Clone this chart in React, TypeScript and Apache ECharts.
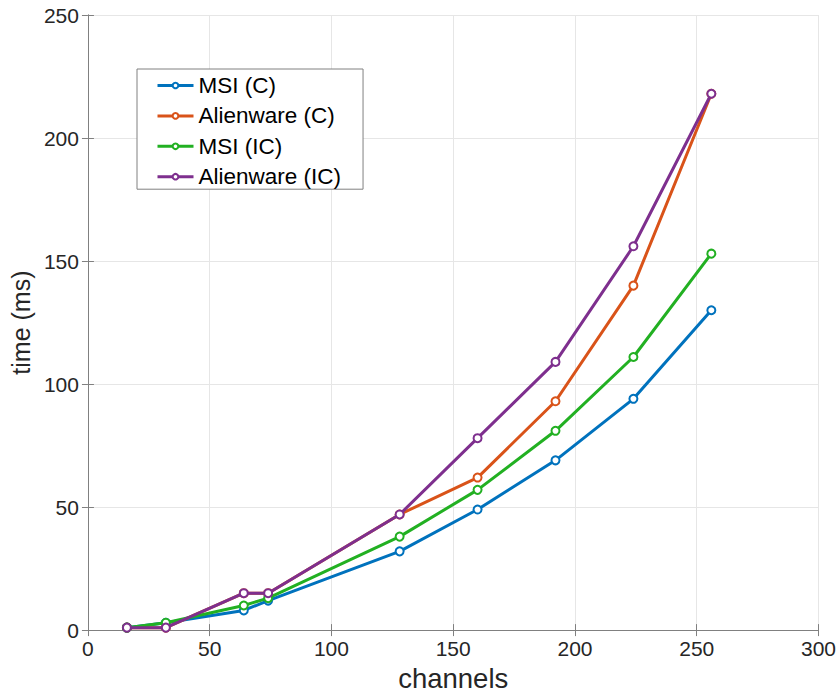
import React, { useEffect, useRef } from "react";
import * as echarts from "echarts";

const channels = [16, 32, 64, 74, 128, 160, 192, 224, 256];
const msiC = [1, 3, 8, 12, 32, 49, 69, 94, 130];
const alienwareC = [1, 1, 15, 15, 47, 62, 93, 140, 218];
const msiIC = [1, 3, 10, 13, 38, 57, 81, 111, 153];
const alienwareIC = [1, 1, 15, 15, 47, 78, 109, 156, 218];
const seriesNames = ["MSI (C)", "Alienware (C)", "MSI (IC)", "Alienware (IC)"];
const seriesColors = ["#0072BD", "#D95319", "#22B022", "#7E2F8E"];
const xTicks = [0, 50, 100, 150, 200, 250, 300];
const yTicks = [0, 50, 100, 150, 200, 250];

const FONT = "'Liberation Sans', Arial, Helvetica, sans-serif";
const AXIS_COLOR = "#808080";
const TEXT_COLOR = "#262626";

export default function App() {
  const ref = useRef<HTMLDivElement>(null);
  useEffect(() => {
    if (!ref.current) return;
    const chart = echarts.init(ref.current, null, { renderer: "svg" });
    const allValues = [msiC, alienwareC, msiIC, alienwareIC];
    const xMin = xTicks[0];
    const xMax = xTicks[xTicks.length - 1];
    const yMin = yTicks[0];
    const yMax = yTicks[yTicks.length - 1];
    const common = {
      axisLine: { show: true, lineStyle: { color: AXIS_COLOR, width: 1 } },
      axisTick: { show: true, inside: true, length: 6, lineStyle: { color: AXIS_COLOR } },
    };
    chart.setOption({
      animation: false,
      backgroundColor: "#ffffff",
      textStyle: { fontFamily: FONT },
      grid: { left: 82, right: 17, top: 15, bottom: 64, containLabel: false },
      legend: {
        left: 137,
        top: 69,
        orient: "vertical",
        selectedMode: false,
        backgroundColor: "#ffffff",
        borderColor: AXIS_COLOR,
        borderWidth: 1,
        borderRadius: 0,
        padding: [5, 22, 1, 19],
        itemWidth: 36,
        itemHeight: 7,
        itemGap: 7.4,
        lineStyle: { width: 3 },
        textStyle: { fontFamily: FONT, fontSize: 22.5, color: "#000000", lineHeight: 22 },
        data: seriesNames,
      },
      xAxis: [
        {
          type: "value",
          min: xMin,
          max: xMax,
          interval: 50,
          name: "channels",
          nameLocation: "middle",
          nameGap: 32,
          nameTextStyle: { fontFamily: FONT, fontSize: 27.5, color: TEXT_COLOR },
          ...common,
          axisLabel: { fontFamily: FONT, fontSize: 21, color: TEXT_COLOR, margin: 8 },
          splitLine: { show: true, lineStyle: { color: "#e6e6e6", width: 1 } },
        },
        {
          type: "value",
          position: "top",
          min: xMin,
          max: xMax,
          interval: 50,
          ...common,
          axisLabel: { show: false },
          splitLine: { show: false },
        },
      ],
      yAxis: [
        {
          type: "value",
          min: yMin,
          max: yMax,
          interval: 50,
          name: "time (ms)",
          nameLocation: "middle",
          nameGap: 48,
          nameTextStyle: { fontFamily: FONT, fontSize: 25, color: TEXT_COLOR },
          ...common,
          axisLabel: { fontFamily: FONT, fontSize: 21, color: TEXT_COLOR, margin: 9 },
          splitLine: { show: true, lineStyle: { color: "#e6e6e6", width: 1 } },
        },
        {
          type: "value",
          position: "right",
          min: yMin,
          max: yMax,
          interval: 50,
          ...common,
          axisLabel: { show: false },
          splitLine: { show: false },
        },
      ],
      series: seriesNames.map((name, i) => ({
        name,
        type: "line",
        xAxisIndex: 0,
        yAxisIndex: 0,
        data: channels.map((c, j) => [c, allValues[i][j]]),
        symbol: "emptyCircle",
        symbolSize: 8,
        showSymbol: true,
        color: seriesColors[i],
        lineStyle: { width: 3, color: seriesColors[i] },
        itemStyle: { color: seriesColors[i], borderColor: seriesColors[i], borderWidth: 1.5 },
        z: 2 + i,
      })),
    });
    return () => chart.dispose();
  }, []);
  return <div ref={ref} style={{ width: 839, height: 697, position: "absolute", left: 0, top: 0 }} />;
}
